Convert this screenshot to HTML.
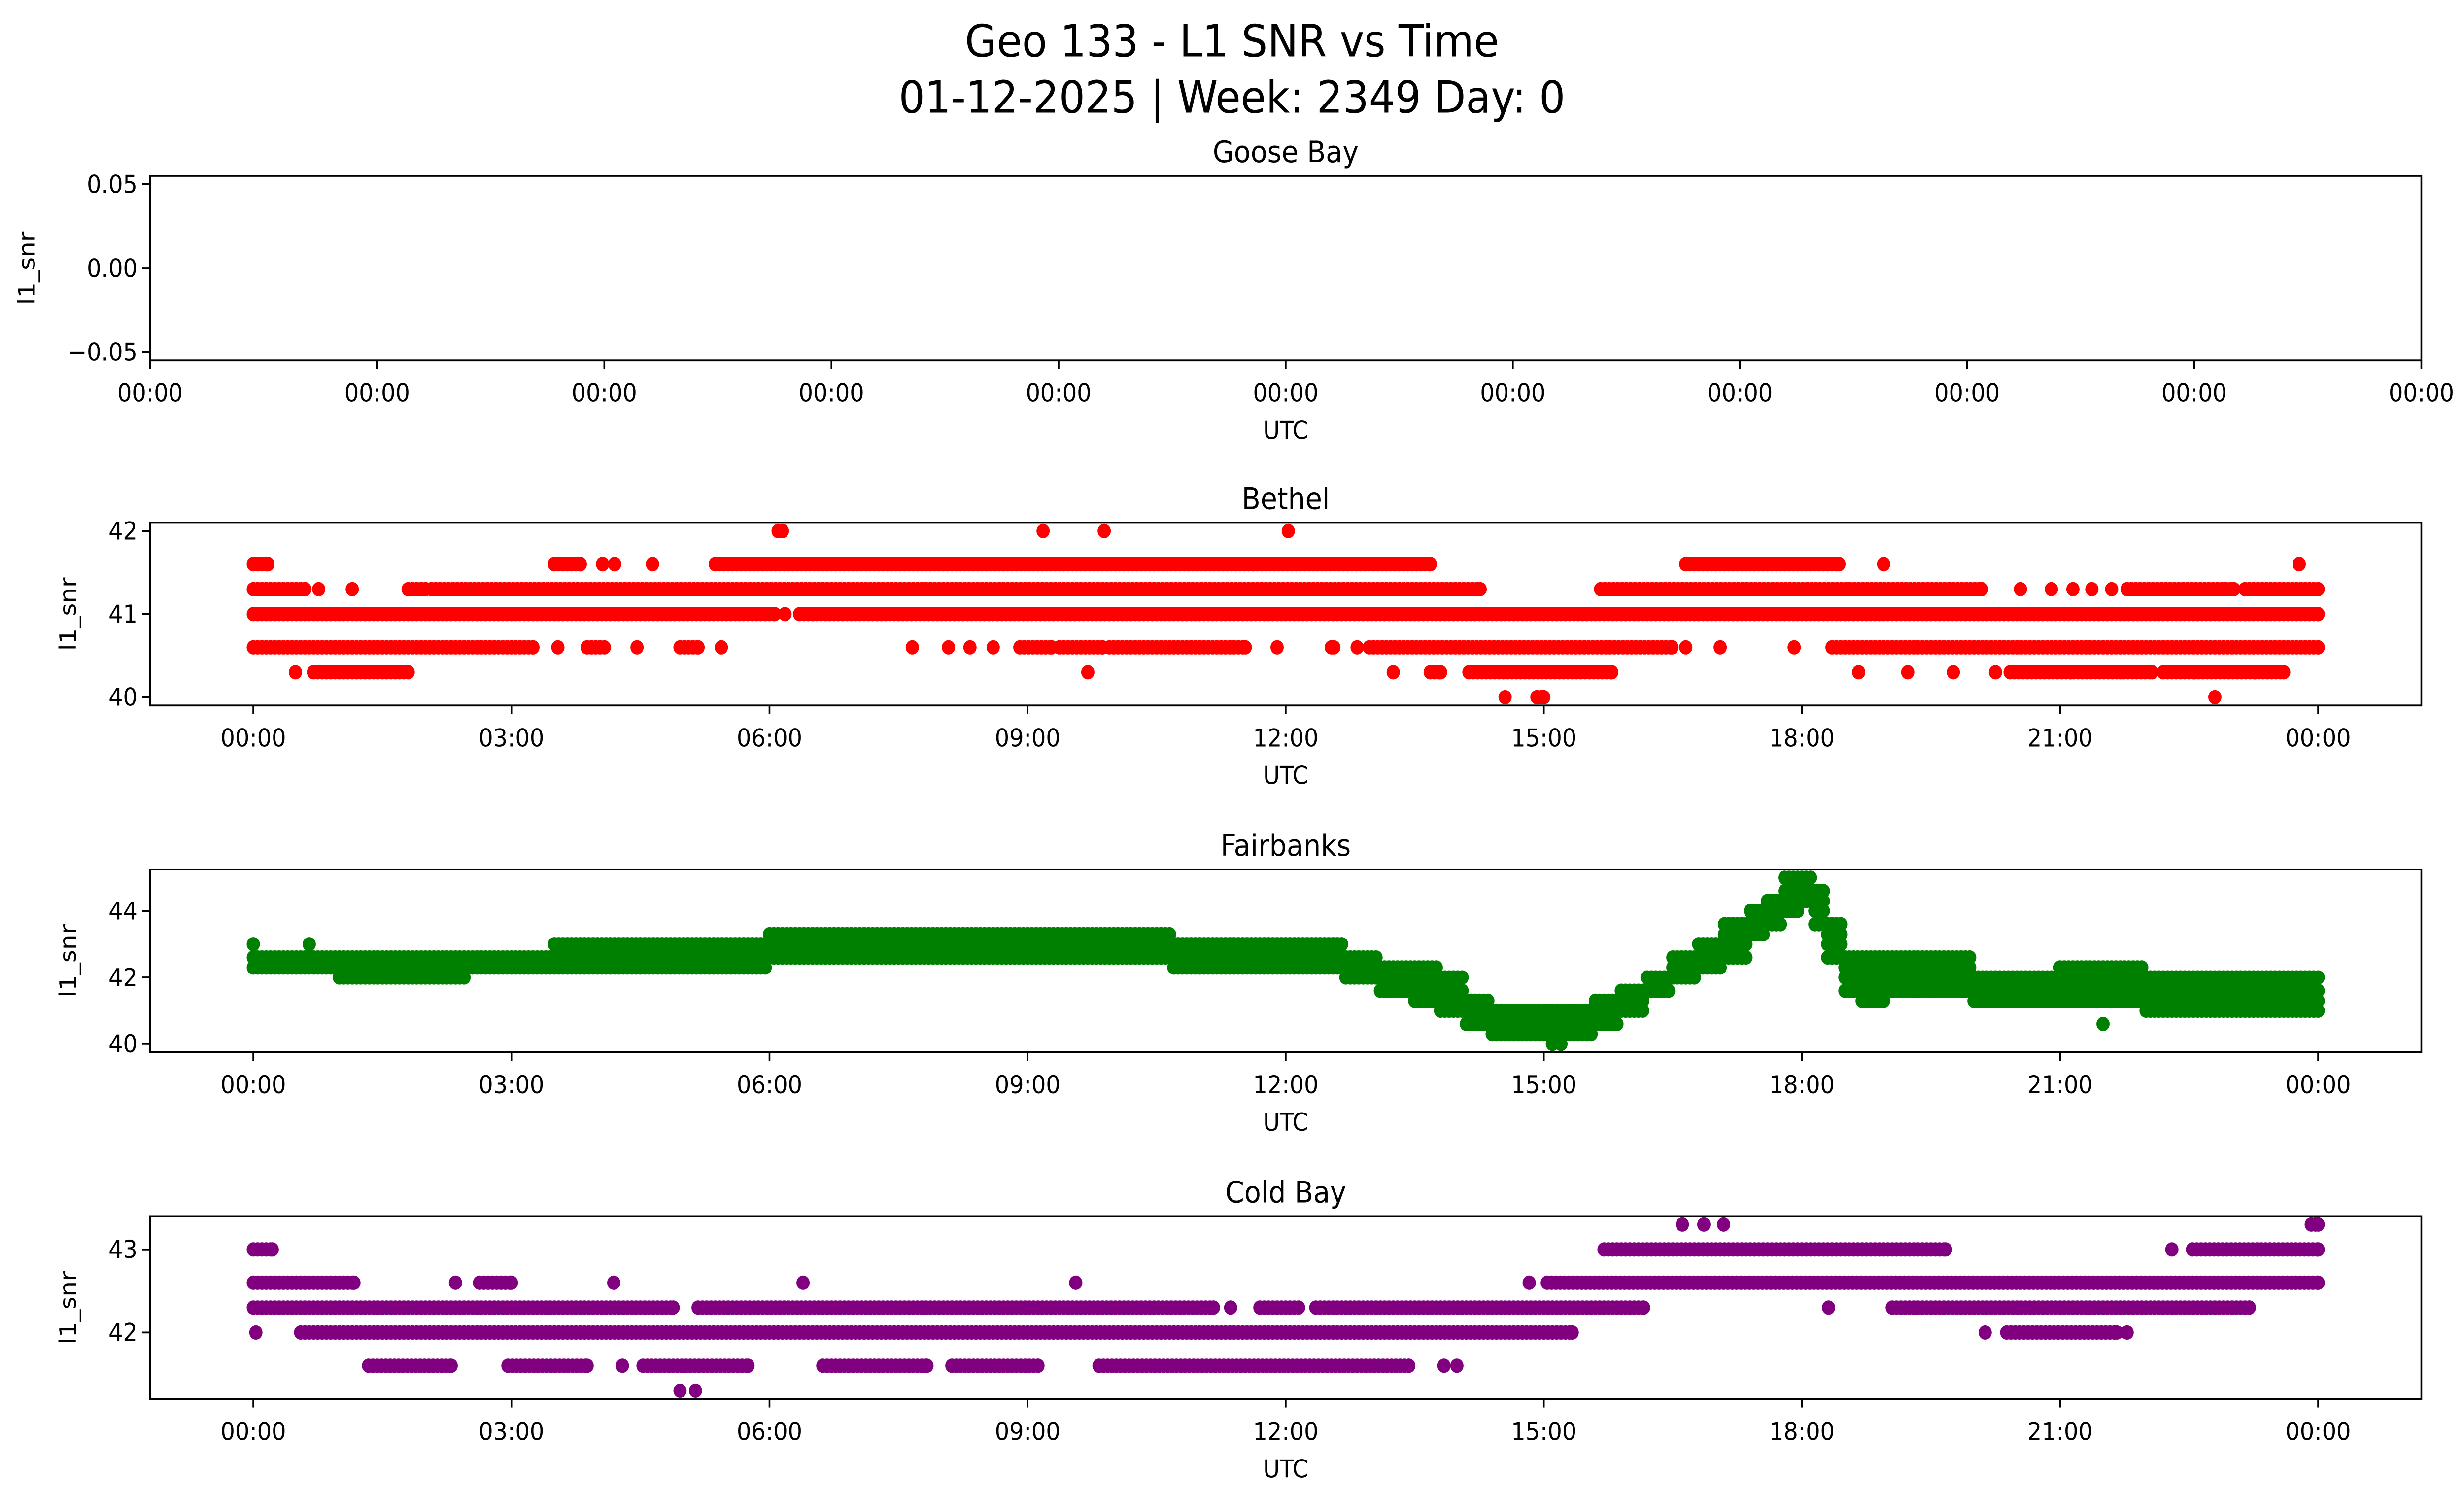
<!DOCTYPE html>
<html><head><meta charset="utf-8"><style>
html,body{margin:0;padding:0;background:#fff;width:100%;height:100%;overflow:hidden;}
svg{display:block;position:absolute;left:0;top:0;width:100vw;height:100vh;font-family:"DejaVu Sans","Liberation Sans",sans-serif;}
</style></head><body>
<svg id="fig" xmlns="http://www.w3.org/2000/svg" viewBox="0 0 1560 875.2" preserveAspectRatio="none">
<rect x="0" y="0" width="1560" height="875.2" fill="#fff"/>
<text x="780" y="33" font-size="26" text-anchor="middle">Geo 133 - L1 SNR vs Time</text>
<text x="780" y="66" font-size="26" text-anchor="middle">01-12-2025 | Week: 2349 Day: 0</text>
<g id="plots"></g>
</svg>
<script>
// ---------- data ----------
const bethelLevels = [42.0, 41.6, 41.3, 41.0, 40.6, 40.3, 40.0];
const bethelRuns = [
  [[6.1,6.15],[9.18,9.18],[9.89,9.89],[12.03,12.03]],
  [[0,0.17],[3.5,3.8],[4.06,4.06],[4.2,4.2],[4.64,4.64],[5.37,13.68],[16.65,18.43],[18.95,18.95],[23.78,23.78]],
  [[0,0.6],[0.76,0.76],[1.15,1.15],[1.8,2.0],[2.07,14.26],[15.66,20.09],[20.54,20.54],[20.9,20.9],[21.15,21.15],[21.37,21.37],[21.6,21.6],[21.78,23.02],[23.15,24]],
  [[0,6.06],[6.18,6.18],[6.35,24]],
  [[0,3.25],[3.54,3.54],[3.88,4.08],[4.46,4.46],[4.96,5.17],[5.44,5.44],[7.66,7.66],[8.08,8.08],[8.33,8.33],[8.6,8.6],[8.91,9.28],[9.37,9.87],[9.95,11.53],[11.9,11.9],[12.53,12.56],[12.83,12.83],[12.97,16.49],[16.65,16.65],[17.05,17.05],[17.91,17.91],[18.35,24]],
  [[0.49,0.49],[0.7,1.8],[9.7,9.7],[13.25,13.25],[13.68,13.8],[14.13,15.79],[18.66,18.66],[19.23,19.23],[19.76,19.76],[20.25,20.25],[20.42,21.12],[21.16,21.7],[21.74,22.07],[22.2,22.57],[22.61,23.27],[23.31,23.6]],
  [[14.55,14.55],[14.92,15.0],[22.8,22.8]]
];
const coldLevels = [43.3, 43.0, 42.6, 42.3, 42.0, 41.6, 41.3];
const coldRuns = [
  [[16.61,16.61],[16.86,16.86],[17.09,17.09],[23.92,24]],
  [[0,0.22],[15.7,19.67],[22.3,22.3],[22.54,24]],
  [[0,1.17],[2.35,2.35],[2.63,3.0],[4.19,4.19],[6.39,6.39],[9.56,9.56],[14.83,14.83],[15.04,24]],
  [[0,4.88],[5.17,11.16],[11.36,11.36],[11.7,12.15],[12.35,16.16],[18.31,18.31],[19.05,23.2]],
  [[0.03,0.03],[0.55,15.33],[20.13,20.13],[20.38,21.66],[21.78,21.78]],
  [[1.34,2.3],[2.96,3.88],[4.29,4.29],[4.53,5.75],[6.62,7.83],[8.12,9.12],[9.83,13.43],[13.84,13.84],[13.99,13.99]],
  [[4.96,4.96],[5.14,5.14]]
];
const fbLevels = [40.0,40.3,40.6,41.0,41.3,41.6,42.0,42.3,42.6,43.0,43.3,43.6,44.0,44.3,44.6,45.0];
const fbWindowStart = [0,1,2.5,3.5,6,7.5,10.7,12.7,13.1,13.5,13.8,14.1,14.4,15.6,15.9,16.2,16.5,16.8,17.1,17.4,17.6,17.8,18.0,18.15,18.3,18.5,18.7,19,20,21,22];
const fbWindowEnd = 24;
const fbLow  = [42.3,42.0,42.3,42.3,42.6,42.6,42.3,42.0,41.6,41.3,41.0,40.6,40.3,40.6,41.0,41.6,42.0,42.3,42.6,43.3,43.6,44.0,44.3,43.6,42.6,41.6,41.3,41.6,41.3,41.3,41.0];
const fbHigh = [42.6,42.6,42.6,43.0,43.3,43.3,43.0,42.6,42.3,42.3,42.0,41.3,41.0,41.3,41.6,42.0,42.6,43.0,43.6,44.0,44.3,45.0,45.0,44.6,43.6,42.6,42.6,42.6,42.0,42.3,42.0];
const fbOutlierT = [0, 0.65, 15.1, 15.2, 21.5];
const fbOutlierV = [43.0, 43.0, 40.0, 40.0, 40.6];
const xTickHours = [0,3,6,9,12,15,18,21,24];
const xTickLabels = ["00:00","03:00","06:00","09:00","12:00","15:00","18:00","21:00","00:00"];

// ---------- drawing ----------
const NS="http://www.w3.org/2000/svg";
const root=document.getElementById('plots');
const X0=95, X1=1533;
const XMIN=-1.2, XMAX=25.2;
function xs(h){return X0+(h-XMIN)/(XMAX-XMIN)*(X1-X0);}
function mk(tag,attrs,parent){const e=document.createElementNS(NS,tag);for(const k in attrs)e.setAttribute(k,attrs[k]);(parent||root).appendChild(e);return e;}
function txt(s,attrs,parent){const e=mk('text',attrs,parent);e.textContent=s;return e;}
const R=4.2, STEP=0.05;

function panel(name,title,top,bottom,ymin,ymax,yticks,ylabels,ylabelX,xt,xtl,xdomain){
  const g=mk('g',{});
  
  
  const ys=v=>bottom-(v-ymin)/(ymax-ymin)*(bottom-top);
  const xf=xdomain?(h=>X0+(h-xdomain[0])/(xdomain[1]-xdomain[0])*(X1-X0)):xs;
  const t=txt(title,{x:(X0+X1)/2,y:top-8,'font-size':17.3,'text-anchor':'middle'},g);
  
  
  const marks=mk('g',{},g);
  
  
  xt.forEach((h,i)=>{
    const x=xf(h);
    const tk=mk('line',{x1:x,x2:x,y1:bottom,y2:bottom+5,stroke:'#000','stroke-width':1.1},g);
    
    
    const l=txt(xtl[i],{x:x,y:bottom+24,'font-size':14.4,'text-anchor':'middle'},g);
    
    
  });
  yticks.forEach((v,i)=>{
    const y=ys(v);
    const tk=mk('line',{x1:X0-5,x2:X0,y1:y,y2:y,stroke:'#000','stroke-width':1.1},g);
    
    
    const l=txt(ylabels[i],{x:X0-8,y:y+5,'font-size':14.4,'text-anchor':'end'},g);
    
    
  });
  const xl=txt('UTC',{x:(X0+X1)/2,y:bottom+46,'font-size':14.4,'text-anchor':'middle'},g);
  
  
  const cy=(top+bottom)/2;
  const yl=txt('l1_snr',{x:ylabelX,y:cy,'font-size':14.4,'text-anchor':'middle',transform:`rotate(-90 ${ylabelX} ${cy})`},g);
  
  
  const fr=mk('rect',{x:X0,y:top,width:X1-X0,height:bottom-top,fill:'none',stroke:'#000','stroke-width':1.1},g);
  
  
  return {ys,marks};
}
function dot(p,h,v,color){
  const c=mk('circle',{cx:xs(h).toFixed(2),cy:p.ys(v).toFixed(2),r:R,fill:color},p.marks);
  
  
}
function drawRuns(p,levels,runs,color){
  levels.forEach((lv,i)=>{
    runs[i].forEach(r=>{
      for(let h=r[0];h<=r[1]+1e-9;h+=STEP) dot(p,h,lv,color);
      if((r[1]-r[0])%STEP>1e-6) dot(p,r[1],lv,color);
    });
  });
}
function limits(vals){const mn=Math.min(...vals),mx=Math.max(...vals),m=(mx-mn)*0.05;return [mn-m,mx+m];}

const gooseTicks=[0,1,2,3,4,5,6,7,8,9,10];
panel('goose-bay','Goose Bay',103,211,-0.055,0.055,[-0.05,0,0.05],['\u22120.05','0.00','0.05'],22,
  gooseTicks,gooseTicks.map(()=>'00:00'),[0,10]);

let lim=limits(bethelLevels.filter((l,i)=>bethelRuns[i].length));
const pB=panel('bethel','Bethel',306,413,lim[0],lim[1],[40,41,42],['40','41','42'],48,xTickHours,xTickLabels);
drawRuns(pB,bethelLevels,bethelRuns,'#ff0000');

lim=limits(fbLow.concat(fbHigh,fbOutlierV));
const pF=panel('fairbanks','Fairbanks',509,616,lim[0],lim[1],[40,42,44],['40','42','44'],48,xTickHours,xTickLabels);
fbWindowStart.forEach((t0,i)=>{
  const t1=i+1<fbWindowStart.length?fbWindowStart[i+1]:fbWindowEnd;
  const last=i===fbWindowStart.length-1;
  fbLevels.forEach(lv=>{
    if(lv<fbLow[i]-0.01||lv>fbHigh[i]+0.01) return;
    for(let h=t0;(last?h<=t1+1e-9:h<t1-1e-9);h+=STEP) dot(pF,h,lv,'#008000');
  });
});
fbOutlierT.forEach((t,i)=>dot(pF,t,fbOutlierV[i],'#008000'));

lim=limits(coldLevels);
const pC=panel('cold-bay','Cold Bay',712,819,lim[0],lim[1],[42,43],['42','43'],48,xTickHours,xTickLabels);
drawRuns(pC,coldLevels,coldRuns,'#800080');
</script>
</body></html>
